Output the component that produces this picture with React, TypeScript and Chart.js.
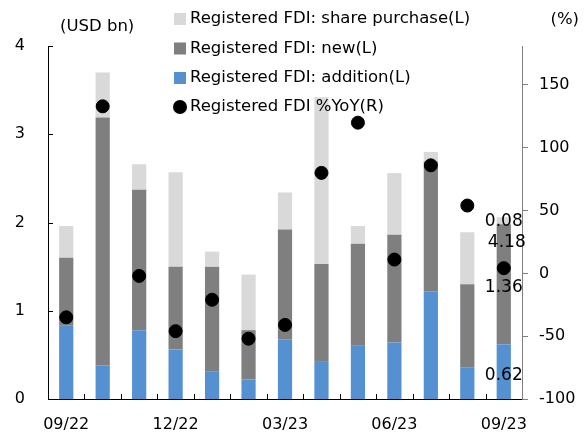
import React, { useEffect, useRef } from "react";
import { Chart, registerables } from "chart.js";
Chart.register(...registerables);

const categories = ["09/22", "10/22", "11/22", "12/22", "01/23", "02/23", "03/23", "04/23", "05/23", "06/23", "07/23", "08/23", "09/23"];
const tickLabels = ["09/22", "12/22", "03/23", "06/23", "09/23"];
const additionL = [0.83, 0.38, 0.78, 0.56, 0.31, 0.22, 0.67, 0.43, 0.61, 0.64, 1.22, 0.36, 0.62];
const newL = [0.77, 2.81, 1.59, 0.94, 1.19, 0.56, 1.25, 1.10, 1.15, 1.22, 1.47, 0.94, 1.36];
const sharePurchaseL = [0.36, 0.51, 0.29, 1.07, 0.17, 0.63, 0.42, 1.89, 0.20, 0.70, 0.11, 0.59, 0.08];
const yoyR = [-35, 133, -2, -46, -21, -52, -41, 80, 120, 11, 86, 54, 4.18];
const leftTicks = [0, 1, 2, 3, 4];
const seriesNames = [
  "Registered FDI: share purchase(L)",
  "Registered FDI: new(L)",
  "Registered FDI: addition(L)",
  "Registered FDI %YoY(R)",
];

const FONT = '"DejaVu Sans", sans-serif';
const C_SHARE = "#d9d9d9";
const C_NEW = "#7f7f7f";
const C_ADD = "#5591d0";

const overlay = {
  id: "overlay",
  afterDraw(chart: any) {
    const { ctx, chartArea, scales } = chart;
    const x = scales.x, y = scales.y, y1 = scales.y1;
    ctx.save();
    ctx.strokeStyle = "#000";
    ctx.lineWidth = 1;
    // inward left ticks
    leftTicks.forEach((v) => {
      const py = Math.round(y.getPixelForValue(v)) + 0.5;
      ctx.beginPath();
      ctx.moveTo(chartArea.left, py);
      ctx.lineTo(chartArea.left + 5, py);
      ctx.stroke();
    });
    // inward x ticks at category boundaries
    const half = (x.getPixelForValue(1) - x.getPixelForValue(0)) / 2;
    for (let i = 1; i < categories.length; i++) {
      const px = Math.round(x.getPixelForValue(i) - half) + 0.5;
      ctx.beginPath();
      ctx.moveTo(px, chartArea.bottom);
      ctx.lineTo(px, chartArea.bottom - 5);
      ctx.stroke();
    }
    // axis titles
    ctx.fillStyle = "#000";
    ctx.font = `16.5px ${FONT}`;
    ctx.textBaseline = "middle";
    ctx.textAlign = "left";
    ctx.fillText("(USD bn)", 60, 27);
    ctx.textAlign = "right";
    ctx.fillText("(%)", 579, 20);
    // legend
    const rows = [19, 48.5, 78, 107];
    const colors = [C_SHARE, C_NEW, C_ADD];
    ctx.textAlign = "left";
    seriesNames.forEach((name, i) => {
      const cy = rows[i];
      if (i < 3) {
        ctx.fillStyle = colors[i];
        ctx.fillRect(174, cy - 6, 12, 12);
      } else {
        ctx.fillStyle = "#000";
        ctx.beginPath();
        ctx.arc(180, cy, 7, 0, Math.PI * 2);
        ctx.fill();
      }
      ctx.fillStyle = "#000";
      ctx.fillText(name, 190, cy);
    });
    // data labels for last category
    const li = categories.length - 1;
    const bx = x.getPixelForValue(li);
    ctx.textAlign = "center";
    ctx.font = `17px ${FONT}`;
    const a = additionL[li], n = newL[li], s = sharePurchaseL[li];
    ctx.fillText(a.toFixed(2), bx, y.getPixelForValue(a / 2) + 4);
    ctx.fillText(n.toFixed(2), bx, y.getPixelForValue(a + n / 2) + 3);
    ctx.fillText(s.toFixed(2), bx, y.getPixelForValue(a + n + s / 2) + 1);
    ctx.fillText(yoyR[li].toFixed(2), bx + 3, y1.getPixelForValue(yoyR[li]) - 26);
    ctx.restore();
  },
};

export default function App() {
  const ref = useRef<HTMLCanvasElement>(null);
  useEffect(() => {
    const chart = new Chart(ref.current!, {
      type: "bar",
      data: {
        labels: categories,
        datasets: [
          {
            type: "line",
            label: seriesNames[3],
            data: yoyR,
            yAxisID: "y1",
            showLine: false,
            pointRadius: 6.5,
            pointBackgroundColor: "#000",
            pointBorderColor: "#000",
            borderColor: "#000",
            order: 0,
          } as any,
          { label: seriesNames[2], data: additionL, backgroundColor: C_ADD, yAxisID: "y", order: 1, stack: "s" },
          { label: seriesNames[1], data: newL, backgroundColor: C_NEW, yAxisID: "y", order: 1, stack: "s" },
          { label: seriesNames[0], data: sharePurchaseL, backgroundColor: C_SHARE, yAxisID: "y", order: 1, stack: "s" },
        ],
      },
      options: {
        animation: false,
        responsive: false,
        maintainAspectRatio: false,
        layout: { padding: { top: 46, left: 0, right: 0, bottom: 0 } },
        datasets: { bar: { barPercentage: 0.39, categoryPercentage: 1 } },
        plugins: { legend: { display: false }, tooltip: { enabled: false } },
        scales: {
          x: {
            stacked: true,
            grid: { display: false, drawTicks: false },
            border: { display: true, color: "#000", width: 1 },
            ticks: {
              autoSkip: false,
              maxRotation: 0,
              padding: 16,
              color: "#000",
              font: { family: FONT, size: 16 },
              callback: (v: any, i: number) => (tickLabels.includes(categories[i]) ? categories[i] : ""),
            },
            afterFit: (s: any) => { s.height = 37; },
          },
          y: {
            position: "left",
            stacked: true,
            min: 0,
            max: 4,
            grid: { display: false, drawTicks: false },
            border: { display: true, color: "#000", width: 1 },
            ticks: { stepSize: 1, padding: 23, color: "#000", font: { family: FONT, size: 16 } },
            afterFit: (s: any) => { s.width = 48; },
          },
          y1: {
            position: "right",
            min: -100,
            max: 181,
            grid: { display: true, drawOnChartArea: false, drawTicks: true, tickLength: 6, color: "#7f7f7f" },
            border: { display: true, color: "#7f7f7f", width: 1 },
            ticks: { stepSize: 50, padding: 11, color: "#000", font: { family: FONT, size: 16 } },
            afterBuildTicks: (s: any) => { s.ticks = s.ticks.filter((t: any) => t.value % 50 === 0); },
            afterFit: (s: any) => { s.width = 62; },
          },
        },
      } as any,
      plugins: [overlay],
    });
    return () => chart.destroy();
  }, []);
  return (
    <div style={{ position: "fixed", left: 0, top: 0, width: 584, height: 436, background: "#fff" }}>
      <canvas ref={ref} width={584} height={436} style={{ width: 584, height: 436 }} />
    </div>
  );
}
